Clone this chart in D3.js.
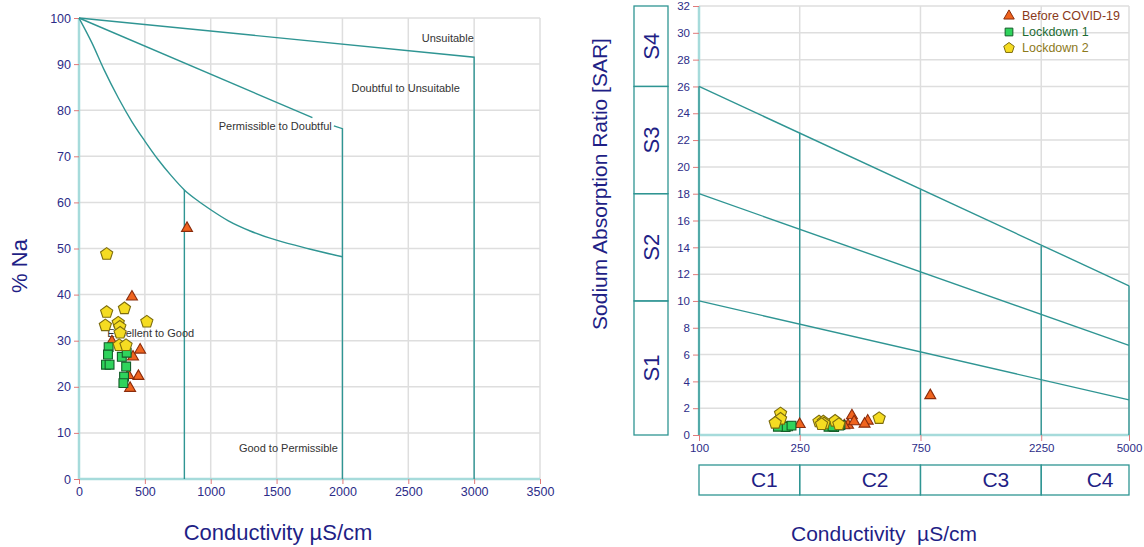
<!DOCTYPE html>
<html><head><meta charset="utf-8">
<script src="https://cdn.jsdelivr.net/npm/d3@7"></script>
<style>body{margin:0;background:#fff;} svg{display:block;font-family:"Liberation Sans",Arial,sans-serif;}</style>
</head><body><svg id="c" width="1144" height="547"></svg>
<script>
// ---------- DATA ----------
const seriesNames = ["Before COVID-19", "Lockdown 1", "Lockdown 2"];
const beforeEC  = [820, 402, 464, 451, 388, 410, 375, 250];
const beforeNa  = [54.4, 39.5, 28.0, 22.3, 19.7, 26.5, 22.5, 29.8];
const beforeSAR = [2.95, 1.45, 1.05, 0.82, 0.74, 1.0, 0.7, 0.8];
const lock1EC   = [225, 220, 205, 232, 325, 362, 358, 342, 337];
const lock1Na   = [28.6, 27.0, 24.8, 24.8, 26.5, 27.4, 24.4, 22.2, 20.8];
const lock1SAR  = [0.65, 0.6, 0.62, 0.7, 0.62, 0.75, 0.7, 0.6, 0.65];
const lock2EC   = [210, 210, 345, 515, 200, 298, 310, 312, 305, 357];
const lock2Na   = [48.8, 36.2, 37.0, 34.1, 33.3, 33.9, 33.0, 31.7, 29.0, 29.0];
const lock2SAR  = [1.6, 1.2, 1.05, 1.25, 0.9, 1.0, 1.0, 0.85, 0.8, 0.8];

// Wilcox diagram boundaries (EC, %Na)
const wilcoxUnsuitable = [[0,100],[3000,91.5],[3000,0]];
const wilcoxDoubtfulA  = [[0,100],[1772,78.4]];
const wilcoxDoubtfulB  = [[1935,76.6],[2000,76],[2000,0]];
const wilcoxGood = [[0,100],[100,94.5],[190,88.8],[300,82.6],[400,77.6],[500,73.3],[600,69.3],[700,65.8],[800,62.7],[900,60.4],[1000,58.4],[1134,56],[1300,53.8],[1500,51.8],[1750,49.9],[2000,48.2]];
const wilcoxExcellent = [[800,62.7],[800,0]];
const wilcoxZoneNames = ["Unsuitable","Doubtful to Unsuitable","Permissible to Doubtful","Excellent to Good","Good to Permissible"];
const wilcoxZoneAt = [[2800,95.6],[2480,84.8],[1490,76.6],[545,31.7],[1590,6.7]];
const wilcoxXTicks = [0,500,1000,1500,2000,2500,3000,3500];
const wilcoxYTicks = [0,10,20,30,40,50,60,70,80,90,100];

// USSL diagram boundaries (EC, SAR)
const usslLines = [[[100,10],[5000,2.62]], [[100,18],[5000,6.68]], [[100,26],[5000,11.13]]];
const usslVerticals = [[[100,0],[100,26]], [[250,0],[250,22.55]], [[750,0],[750,18.3]], [[2250,0],[2250,14.1]], [[5000,0],[5000,11.13]]];
const usslXTicks = [100,250,750,2250,5000];
const usslYTicks = [0,2,4,6,8,10,12,14,16,18,20,22,24,26,28,30,32];
const sClasses = ["S1","S2","S3","S4"];
const sBounds  = [[0,10],[10,18],[18,26],[26,32]];
const cClasses = ["C1","C2","C3","C4"];
const cBounds  = [[100,250],[250,750],[750,2250],[2250,5000]];

// ---------- STYLE ----------
const TEAL = "#2f9593", AXIS = "#a6dbdb", GRID = "#dedede", TICK = "#e07a7a";
const NAVY = "#1f1f86", TICKTXT = "#2c2c88";
const fills = ["#f0641e","#2fd35c","#f5dc22"], strokes = ["#8a2c0c","#145c28","#7d6c0e"];
const legendTxt = ["#8a3a1a","#1d6b32","#8d7a1c"];

const svg = d3.select("#c");

function pentagon(r){
  const p = d3.path();
  for(let i=0;i<5;i++){const a=-Math.PI/2+i*2*Math.PI/5;const x=r*Math.cos(a),y=r*Math.sin(a);i?p.lineTo(x,y):p.moveTo(x,y);}
  p.closePath(); return p.toString();
}
const shapePath = [d3.symbol(d3.symbolTriangle,52)(), d3.symbol(d3.symbolSquare,78)(), pentagon(6.4)];

function zip(a,b){return a.map((v,i)=>[v,b[i]]);}

// ---------- LEFT: Wilcox ----------
const xL = d3.scaleLinear().domain([0,3500]).range([79,540]);
const yL = d3.scaleLinear().domain([0,100]).range([479,18]);
const gL = svg.append("g");
gL.selectAll(".gx").data(wilcoxXTicks.slice(1)).join("line")
  .attr("x1",d=>xL(d)).attr("x2",d=>xL(d)).attr("y1",yL(0)).attr("y2",yL(100))
  .attr("stroke",GRID).attr("stroke-width",1.5);
gL.selectAll(".gy").data(wilcoxYTicks.slice(1)).join("line")
  .attr("x1",xL(0)).attr("x2",xL(3500)).attr("y1",d=>yL(d)).attr("y2",d=>yL(d))
  .attr("stroke",GRID).attr("stroke-width",1.5);
const axL = gL.append("g").attr("transform",`translate(0,${yL(0)})`)
  .call(d3.axisBottom(xL).tickValues(wilcoxXTicks).tickSize(5).tickPadding(3).tickFormat(d3.format("d")));
const ayL = gL.append("g").attr("transform",`translate(${xL(0)},0)`)
  .call(d3.axisLeft(yL).tickValues(wilcoxYTicks).tickSize(5).tickPadding(3));
[axL,ayL].forEach(a=>{
  a.select(".domain").attr("stroke",AXIS).attr("stroke-width",2.5);
  a.selectAll(".tick line").attr("stroke",TICK);
  a.selectAll(".tick text").attr("fill",TICKTXT).attr("font-size",12.5).attr("font-family","Liberation Sans, Arial, sans-serif");
});
axL.select(".domain").attr("d",`M${xL(0)},0H${xL(3500)}`);
ayL.select(".domain").attr("d",`M0,${yL(0)}V${yL(100)}`);

const lineL = d3.line().x(d=>xL(d[0])).y(d=>yL(d[1]));
[wilcoxUnsuitable,wilcoxDoubtfulA,wilcoxDoubtfulB,wilcoxExcellent].forEach(l=>
  gL.append("path").attr("d",lineL(l)).attr("fill","none").attr("stroke",TEAL).attr("stroke-width",1.4));
gL.append("path").attr("d",d3.line().x(d=>xL(d[0])).y(d=>yL(d[1])).curve(d3.curveMonotoneX)(wilcoxGood))
  .attr("fill","none").attr("stroke",TEAL).attr("stroke-width",1.4);

// zone labels (under the markers)
gL.selectAll(".zl").data(wilcoxZoneNames).join("text")
  .attr("x",(d,i)=>xL(wilcoxZoneAt[i][0])).attr("y",(d,i)=>yL(wilcoxZoneAt[i][1]))
  .attr("dy","0.35em").attr("text-anchor","middle").attr("font-size",11).attr("fill","#333").text(d=>d);

const leftSeries = [zip(beforeEC,beforeNa), zip(lock1EC,lock1Na), zip(lock2EC,lock2Na)];
leftSeries.forEach((s,k)=>{
  gL.append("g").selectAll("path").data(s).join("path")
    .attr("d",shapePath[k]).attr("transform",d=>`translate(${xL(d[0])},${yL(d[1])})`)
    .attr("fill",fills[k]).attr("stroke",strokes[k]).attr("stroke-width",1.1);
});

svg.append("text").attr("transform",`translate(19,266) rotate(-90)`).attr("text-anchor","middle")
  .attr("dy","0.35em").attr("font-size",22).attr("fill",NAVY).text("% Na");
svg.append("text").attr("x",278).attr("y",532).attr("text-anchor","middle").attr("dy","0.35em")
  .attr("font-size",22).attr("fill",NAVY).text("Conductivity µS/cm");

// ---------- RIGHT: USSL ----------
const xR = d3.scaleLog().domain([100,5000]).range([699,1129]);
const yR = d3.scaleLinear().domain([0,32]).range([435,6]);
const gR = svg.append("g");
gR.selectAll(".gy").data(usslYTicks.slice(1)).join("line")
  .attr("x1",xR(100)).attr("x2",xR(5000)).attr("y1",d=>yR(d)).attr("y2",d=>yR(d))
  .attr("stroke",GRID).attr("stroke-width",1.5);
gR.selectAll(".gx").data(usslXTicks.slice(1)).join("line")
  .attr("x1",d=>xR(d)).attr("x2",d=>xR(d)).attr("y1",yR(0)).attr("y2",yR(32))
  .attr("stroke",GRID).attr("stroke-width",1.5);
const axR = gR.append("g").attr("transform",`translate(0,${yR(0)})`)
  .call(d3.axisBottom(xR).tickValues(usslXTicks).tickSize(6).tickPadding(3).tickFormat(d3.format("d")));
const ayR = gR.append("g").attr("transform",`translate(${xR(100)},0)`)
  .call(d3.axisLeft(yR).tickValues(usslYTicks).tickSize(6).tickPadding(3));
[axR,ayR].forEach(a=>{
  a.select(".domain").attr("stroke",AXIS).attr("stroke-width",2.5);
  a.selectAll(".tick line").attr("stroke",TICK);
  a.selectAll(".tick text").attr("fill",TICKTXT).attr("font-size",11.5).attr("font-family","Liberation Sans, Arial, sans-serif");
});
axR.select(".domain").attr("d",`M${xR(100)},0H${xR(5000)}`);
ayR.select(".domain").attr("d",`M0,${yR(0)}V${yR(32)}`);

const lineR = d3.line().x(d=>xR(d[0])).y(d=>yR(d[1]));
usslLines.concat(usslVerticals).forEach(l=>
  gR.append("path").attr("d",lineR(l)).attr("fill","none").attr("stroke",TEAL).attr("stroke-width",1.4));

const rightSeries = [zip(beforeEC,beforeSAR), zip(lock1EC,lock1SAR), zip(lock2EC,lock2SAR)];
rightSeries.forEach((s,k)=>{
  gR.append("g").selectAll("path").data(s).join("path")
    .attr("d",shapePath[k]).attr("transform",d=>`translate(${xR(d[0])},${yR(d[1])})`)
    .attr("fill",fills[k]).attr("stroke",strokes[k]).attr("stroke-width",1.1);
});

// legend
const lg = gR.append("g");
seriesNames.forEach((n,k)=>{
  const y = 16 + k*16;
  lg.append("path").attr("d",k==2?pentagon(5.5):d3.symbol(k==0?d3.symbolTriangle:d3.symbolSquare,k==0?48:60)())
    .attr("transform",`translate(1009,${y})`).attr("fill",fills[k]).attr("stroke",strokes[k]).attr("stroke-width",1);
  lg.append("text").attr("x",1022).attr("y",y).attr("dy","0.35em").attr("font-size",12.5)
    .attr("fill",legendTxt[k]).text(n);
});

// S class boxes
const sx0 = 634, sx1 = 668;
sBounds.forEach((b,i)=>{
  gR.append("rect").attr("x",sx0).attr("width",sx1-sx0).attr("y",yR(b[1])).attr("height",yR(b[0])-yR(b[1]))
    .attr("fill","none").attr("stroke",TEAL).attr("stroke-width",1.3);
  gR.append("text").attr("transform",`translate(${(sx0+sx1)/2},${(yR(b[0])+yR(b[1]))/2}) rotate(-90)`)
    .attr("text-anchor","middle").attr("dy","0.35em").attr("font-size",22).attr("fill",NAVY).text(sClasses[i]);
});
// C class boxes
const cy0 = 465, cy1 = 495;
cBounds.forEach((b,i)=>{
  gR.append("rect").attr("x",xR(b[0])).attr("width",xR(b[1])-xR(b[0])).attr("y",cy0).attr("height",cy1-cy0)
    .attr("fill","none").attr("stroke",TEAL).attr("stroke-width",1.3);
  gR.append("text").attr("x",(xR(b[0])+xR(b[1]))/2+15).attr("y",(cy0+cy1)/2).attr("dy","0.35em")
    .attr("text-anchor","middle").attr("font-size",21).attr("fill",NAVY).text(cClasses[i]);
});

svg.append("text").attr("transform",`translate(600,184) rotate(-90)`).attr("text-anchor","middle")
  .attr("dy","0.35em").attr("font-size",21).attr("fill",NAVY).text("Sodium Absorption Ratio [SAR]");
svg.append("text").attr("x",884).attr("y",534).attr("text-anchor","middle").attr("dy","0.35em")
  .attr("font-size",21).attr("fill",NAVY).attr("xml:space","preserve").style("white-space","pre").text("Conductivity  µS/cm");
</script></body></html>
